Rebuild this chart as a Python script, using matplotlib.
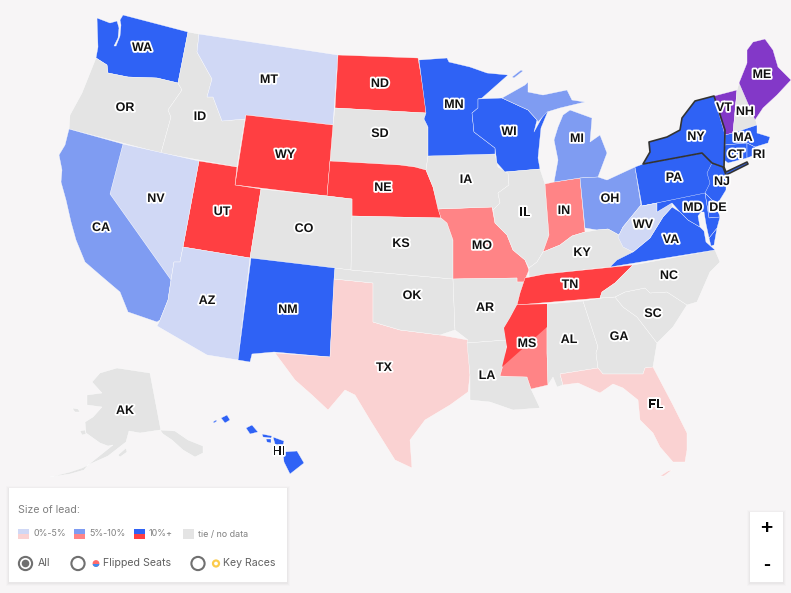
#!/usr/bin/env python
# -*- coding: utf-8 -*-

"""
Senate lead map: state shapes in screen pixels, one colour per state.
"""

import matplotlib
matplotlib.use("Agg")
import matplotlib.pyplot as plt
import matplotlib.patheffects as pe
from matplotlib.patches import Rectangle, Circle

# Lead categories and their colours.
BG = "#f7f5f6"
GREY = "#e4e4e4"
COLOURS = {
    "none": GREY,
    "d0": "#d0d8f5", "d5": "#7f9cf2", "d10": "#2f62f5",
    "r0": "#fad2d2", "r5": "#ff8486", "r10": "#ff3f42",
    "other": "#8338c8",
}

STATES = ["WA", "OR", "ID", "MT", "ND", "SD", "WY", "NE", "UT", "CO", "NV", "CA", "AZ", "NM", "TX", "OK", "KS",
          "MO", "AR", "LA", "IA", "MN", "WI", "IL", "IN", "MI", "OH", "KY", "TN", "MS", "AL", "GA", "SC", "NC",
          "FL", "VA", "WV", "PA", "NY", "VT", "NH", "ME", "MA", "CT", "RI", "NJ", "DE", "MD", "AK", "HI"]
LEADS = ["d10", "none", "none", "d0", "r10", "none", "r10", "r10", "r10", "none", "d0", "d5", "d0", "d10", "r0",
         "none", "none", "r5", "none", "none", "none", "d10", "d10", "none", "r5", "d5", "d5", "none", "r10", "r5",
         "none", "none", "none", "none", "r0", "d10", "d0", "d10", "d10", "other", "none", "other", "d10", "d10",
         "d10", "d10", "d10", "d10", "none", "d10"]
LABEL_X = [142, 125, 200, 269, 380, 380, 285, 383, 222, 304, 156, 101, 207, 288, 384, 412, 401, 482, 485, 487, 466,
           454, 509, 525, 564, 577, 610, 582, 570, 527, 569, 619, 653, 669, 656, 671, 643, 674, 696, 724, 745, 762,
           743, 736, 759, 722, 718, 693, 125, 279]
LABEL_Y = [48, 108, 117, 80, 84, 134, 155, 188, 212, 229, 199, 228, 301, 310, 368, 296, 244, 246, 308, 376, 180, 105,
           132, 213, 211, 139, 199, 253, 285, 344, 340, 337, 314, 276, 405, 240, 225, 178, 137, 108, 112, 75, 138,
           155, 155, 182, 208, 208, 411, 452]

# State outlines (pixels).
WA = [(97, 18), (110, 23), (117, 21), (119, 28), (118, 38), (114, 46), (116, 46), (120, 36), (121, 25), (120, 20),
      (123, 15), (188, 32), (178, 83), (157, 78), (128, 77), (108, 73), (107, 65), (96, 58), (98, 47)]
OR = [(96, 58), (107, 65), (108, 73), (128, 77), (157, 78), (178, 83), (182, 90), (168, 110), (171, 117), (161, 153),
      (69, 129), (70, 115), (82, 93)]
ID = [(188, 32), (199, 34), (197, 52), (212, 79), (207, 97), (213, 97), (222, 121), (245, 119), (237, 167), (161, 153),
      (171, 117), (168, 110), (182, 90), (178, 83)]
MT = [(199, 34), (338, 55), (333, 125), (246, 115), (245, 119), (222, 121), (213, 97), (207, 97), (212, 79), (197, 52)]
ND = [(338, 55), (418, 58), (421, 75), (424, 95), (426, 113), (335, 108)]
SD = [(335, 108), (426, 113), (424, 119), (428, 127), (428, 156), (426, 170), (415, 167), (400, 165), (330, 161),
      (333, 125)]
WY = [(246, 115), (333, 125), (330, 161), (327, 196), (235, 185)]
NE = [(330, 161), (400, 165), (415, 167), (426, 170), (433, 187), (441, 218), (352, 216), (352, 199), (327, 196)]
UT = [(199, 161), (237, 167), (235, 185), (261, 189), (250, 258), (183, 247)]
CO = [(261, 189), (327, 196), (352, 199), (352, 216), (351, 270), (250, 258)]
KS = [(352, 216), (441, 218), (447, 223), (453, 240), (453, 279), (351, 270)]
NV = [(123, 144), (199, 161), (183, 247), (180, 262), (174, 262), (171, 280), (110, 194)]
AZ = [(183, 247), (250, 258), (238, 360), (207, 355), (157, 326), (160, 320), (168, 300), (171, 280), (174, 262),
      (180, 262)]
CA = [(69, 129), (123, 144), (110, 194), (171, 280), (168, 300), (160, 320), (157, 322), (128, 312), (120, 292),
      (100, 275), (85, 262), (76, 240), (71, 222), (66, 200), (61, 182), (62, 170), (59, 155), (65, 145)]
NM = [(251, 258), (335, 268), (330, 357), (274, 352), (252, 354), (250, 362), (238, 360)]
TX = [(334, 279), (373, 283), (373, 322), (400, 330), (440, 335), (468, 340), (470, 375), (468, 392), (450, 405),
      (425, 420), (410, 440), (412, 468), (395, 460), (370, 420), (355, 395), (345, 390), (328, 410), (312, 395),
      (295, 380), (275, 353), (330, 357)]
OK = [(335, 268), (351, 270), (453, 279), (455, 330), (440, 335), (400, 330), (373, 322), (373, 283), (334, 279)]
MO = [(438, 209), (492, 207), (495, 223), (507, 235), (513, 250), (525, 260), (529, 270), (524, 282), (517, 282),
      (517, 278), (453, 279), (453, 240), (447, 223), (441, 218)]
AR = [(453, 279), (517, 278), (517, 282), (524, 282), (520, 293), (517, 305), (510, 318), (504, 328), (507, 340),
      (467, 343), (468, 340), (455, 330)]
LA = [(467, 343), (507, 340), (505, 358), (500, 376), (527, 377), (531, 389), (540, 408), (513, 410), (490, 402),
      (470, 400), (470, 375)]
IA = [(428, 156), (495, 154), (498, 167), (508, 173), (509, 185), (498, 193), (500, 203), (493, 210), (492, 207),
      (438, 209), (433, 187), (426, 170)]
MN = [(419, 60), (447, 58), (449, 62), (470, 67), (487, 73), (508, 75), (482, 98), (478, 99), (478, 108), (472, 113),
      (474, 132), (495, 148), (495, 154), (428, 156), (428, 127), (424, 119), (426, 113), (421, 75)]
WI = [(478, 99), (502, 98), (528, 110), (537, 120), (534, 132), (545, 112), (548, 111), (541, 128), (538, 158),
      (540, 169), (505, 172), (497, 163), (495, 148), (474, 132), (472, 113), (478, 108)]
IL = [(505, 172), (540, 169), (545, 184), (547, 210), (549, 235), (543, 252), (537, 262), (529, 268), (525, 260),
      (513, 250), (507, 235), (495, 223), (493, 210), (500, 203), (498, 193), (509, 185), (508, 173)]
IN = [(545, 184), (554, 182), (580, 178), (585, 232), (572, 236), (560, 245), (543, 252), (549, 235), (547, 210)]
MI_UPPER = [(502, 98), (525, 85), (528, 82), (528, 92), (543, 95), (567, 90), (572, 100), (585, 102), (560, 108),
            (547, 112), (538, 122), (537, 120), (528, 110)]
MI_LOWER = [(570, 110), (592, 118), (590, 142), (600, 135), (607, 153), (598, 177), (580, 178), (554, 182), (558, 160),
            (554, 140), (558, 127), (563, 115)]
MI_ISLE = [(512, 77), (521, 70), (523, 71), (514, 78)]
OH = [(580, 178), (598, 177), (607, 180), (635, 167), (641, 205), (623, 227), (619, 235), (608, 229), (597, 230),
      (585, 228)]
KY = [(529, 268), (537, 262), (543, 252), (560, 245), (572, 236), (585, 232), (597, 230), (608, 229), (619, 235),
      (624, 247), (633, 252), (620, 260), (610, 267), (545, 274), (529, 277)]
TN = [(525, 278), (545, 274), (633, 265), (615, 283), (602, 292), (600, 298), (517, 305), (520, 293)]
MS = [(517, 305), (547, 304), (547, 353), (548, 385), (531, 389), (527, 377), (500, 376), (505, 358), (507, 347),
      (504, 328), (510, 318)]
MS_TOP = [(517, 305), (547, 304), (547, 327), (502, 367), (507, 347), (504, 328), (510, 318)]
AL = [(547, 304), (583, 301), (598, 347), (596, 353), (598, 368), (560, 374), (563, 385), (557, 387), (553, 377),
      (548, 385), (547, 353)]
GA = [(583, 301), (602, 298), (615, 297), (623, 307), (637, 317), (657, 343), (653, 367), (645, 368), (643, 374),
      (603, 374), (598, 368), (596, 353), (598, 347)]
SC = [(615, 297), (625, 292), (645, 288), (650, 293), (667, 292), (687, 305), (673, 327), (657, 343), (637, 317),
      (623, 307)]
NC = [(633, 265), (715, 250), (720, 262), (710, 272), (697, 302), (687, 305), (667, 292), (650, 293), (645, 288),
      (625, 292), (615, 297), (600, 298), (602, 292), (615, 283)]
FL = [(560, 374), (598, 368), (603, 374), (643, 374), (645, 368), (653, 367), (673, 405), (687, 433), (687, 450),
      (685, 462), (673, 462), (660, 447), (653, 433), (640, 420), (638, 400), (623, 388), (613, 384), (600, 393),
      (578, 383), (563, 385)]
FL_KEYS = [(660, 476), (668, 471), (672, 470), (664, 476)]
VA = [(610, 267), (617, 260), (633, 252), (650, 238), (663, 217), (672, 207), (680, 212), (688, 220), (700, 227),
      (704, 231), (706, 242), (715, 250)]
VA_SHORE = [(709, 238), (717, 228), (714, 245), (711, 246)]
WV = [(618, 237), (623, 227), (641, 205), (657, 203), (657, 212), (672, 203), (672, 207), (663, 217), (650, 238),
      (633, 252), (623, 247)]
PA = [(635, 167), (643, 164), (702, 153), (712, 163), (723, 167), (715, 183), (710, 193), (642, 206)]
NY = [(643, 164), (650, 152), (649, 142), (667, 137), (680, 130), (682, 118), (695, 101), (714, 96), (725, 130),
      (724, 167), (726, 172), (747, 162), (748, 164), (726, 175), (723, 167), (712, 163), (702, 153)]
VT = [(714, 96), (737, 90), (733, 133), (725, 135)]
NH = [(737, 90), (739, 83), (755, 118), (757, 125), (733, 133)]
ME = [(739, 83), (747, 63), (747, 50), (753, 42), (765, 39), (773, 50), (778, 67), (791, 80), (777, 95), (763, 108),
      (755, 120)]
MA = [(725, 135), (733, 133), (757, 125), (757, 133), (770, 137), (768, 143), (755, 147), (747, 143), (725, 145)]
CT = [(725, 145), (747, 143), (747, 158), (728, 163), (724, 160)]
RI = [(747, 143), (755, 147), (755, 155), (747, 158)]
NJ = [(712, 163), (723, 167), (726, 175), (726, 190), (718, 203), (712, 200), (705, 193), (710, 183), (707, 173)]
DE = [(705, 193), (712, 200), (716, 205), (720, 217), (709, 218)]
MD = [(642, 206), (705, 193), (709, 218), (720, 217), (717, 228), (709, 238), (706, 224), (704, 212), (701, 212),
      (698, 216), (700, 227), (688, 220), (680, 212), (672, 203), (657, 212), (657, 203)]
AK = [(150, 373), (117, 368), (100, 373), (92, 382), (102, 393), (87, 395), (87, 405), (102, 407), (93, 417), (85, 422),
      (86, 433), (100, 443), (108, 446), (113, 445), (88, 465), (108, 456), (126, 442), (129, 431), (140, 433),
      (160, 430), (161, 431)]
AK_PANHANDLE = [(160, 430), (175, 431), (188, 440), (203, 446), (203, 453), (195, 457), (183, 450), (172, 440),
                (163, 434)]
AK_ISLE1 = [(72, 408), (78, 409), (80, 412), (75, 412)]
AK_ISLE2 = [(80, 431), (85, 430), (86, 434), (82, 435)]
AK_ISLE3 = [(118, 455), (126, 448), (127, 452), (120, 457)]
AK_CHAIN = [(88, 465), (82, 468), (70, 472), (50, 477), (70, 474), (84, 470)]
HI_BIG = [(283, 452), (297, 451), (304, 463), (290, 474), (284, 462)]
HI_MAUI = [(273, 437), (284, 441), (283, 446), (275, 444)]
HI_MOLOKAI = [(262, 434), (272, 436), (271, 438), (263, 437)]
HI_LANAI = [(266, 439), (271, 439), (271, 443), (267, 442)]
HI_OAHU = [(246, 428), (252, 425), (258, 432), (250, 434)]
HI_KAUAI = [(221, 418), (227, 415), (230, 420), (225, 423)]
HI_NIIHAU = [(213, 422), (216, 420), (217, 421), (214, 423)]

SHAPES = {
    "WA": [WA], "OR": [OR], "ID": [ID], "MT": [MT], "ND": [ND], "SD": [SD], "WY": [WY], "NE": [NE], "UT": [UT],
    "CO": [CO], "KS": [KS], "NV": [NV], "AZ": [AZ], "CA": [CA], "NM": [NM], "TX": [TX], "OK": [OK], "MO": [MO],
    "AR": [AR], "LA": [LA], "IA": [IA], "MN": [MN], "WI": [WI], "IL": [IL], "IN": [IN],
    "MI": [MI_UPPER, MI_LOWER, MI_ISLE], "OH": [OH], "KY": [KY], "TN": [TN], "MS": [MS], "AL": [AL], "GA": [GA],
    "SC": [SC], "NC": [NC], "FL": [FL, FL_KEYS], "VA": [VA, VA_SHORE], "WV": [WV], "PA": [PA], "NY": [NY], "VT": [VT],
    "NH": [NH], "ME": [ME], "MA": [MA], "CT": [CT], "RI": [RI], "NJ": [NJ], "DE": [DE], "MD": [MD],
    "AK": [AK, AK_PANHANDLE, AK_ISLE1, AK_ISLE2, AK_ISLE3, AK_CHAIN],
    "HI": [HI_BIG, HI_MAUI, HI_MOLOKAI, HI_LANAI, HI_OAHU, HI_KAUAI, HI_NIIHAU],
}

# Legend content.
LEGEND_TITLE = "Size of lead:"
LEGEND_TEXT = ["0%-5%", "5%-10%", "10%+", "tie / no data"]
LEGEND_TOP = ["d0", "d5", "d10", "none"]
LEGEND_BOTTOM = ["r0", "r5", "r10", "none"]
RADIO_TEXT = ["All", "Flipped Seats", "Key Races"]

plt.rcParams['font.family'] = ['Liberation Sans', 'DejaVu Sans']

fig = plt.figure(figsize=(7.91, 5.93), dpi=100, facecolor=BG)
ax = fig.add_axes([0, 0, 1, 1])
ax.set_xlim(0, 791)
ax.set_ylim(593, 0)
ax.axis("off")


def shadow_box(x, y, w, h):
    # Soft shadow, then the white card.
    for grow, alpha in [(3, 0.012), (2, 0.018), (1, 0.025)]:
        ax.add_patch(Rectangle((x - grow, y - grow + 1), w + 2 * grow, h + 2 * grow, fc="black", ec="none",
                               alpha=alpha, zorder=10))
    ax.add_patch(Rectangle((x, y), w, h, fc="white", ec="none", zorder=11))


# The states.
for state, lead in zip(STATES, LEADS):
    for outline in SHAPES[state]:
        ax.fill(*zip(*outline), fc=COLOURS[lead], ec="white", lw=0.25, zorder=2, joinstyle="round")

# Mississippi is split across the diagonal.
ax.fill(*zip(*MS_TOP), fc=COLOURS["r10"], ec="none", zorder=3)

# New York has the heavy outline.
ax.fill(*zip(*NY), fc="none", ec="#333333", lw=1.2, zorder=4, joinstyle="round")

for state, x, y in zip(STATES, LABEL_X, LABEL_Y):
    ax.text(x, y, state, ha="center", va="center", fontsize=9, fontweight="bold", color="#111111", zorder=6,
            path_effects=[pe.withStroke(linewidth=2.6, foreground="white")])

# Legend card.
shadow_box(9, 488, 278, 94)
ax.text(18, 510, LEGEND_TITLE, ha="left", va="center", fontsize=7.6, color="#808080", family="Inter", zorder=12)

for i, sw_x in enumerate([18, 74, 134, 183]):
    ax.add_patch(Rectangle((sw_x, 529), 11, 5, fc=COLOURS[LEGEND_TOP[i]], ec="none", zorder=12))
    ax.add_patch(Rectangle((sw_x, 534), 11, 5, fc=COLOURS[LEGEND_BOTTOM[i]], ec="none", zorder=12))
    ax.text(sw_x + 15, 534, LEGEND_TEXT[i], ha="left", va="center", fontsize=6.4, color="#808080", family="Inter",
            zorder=12)

for cx, text_x, label in zip([25.5, 78, 198], [38, 103, 223], RADIO_TEXT):
    ax.add_patch(Circle((cx, 563.5), 6.6, fc="white", ec="#707070", lw=1.5, zorder=12))
    ax.text(text_x, 562.5, label, ha="left", va="center", fontsize=7.6, color="#606060", family="Inter", zorder=12)
ax.add_patch(Circle((25.5, 563.5), 3.8, fc="#707070", ec="none", zorder=13))

# Flipped seats marker, then key races ring.
ax.add_patch(Circle((96, 563.5), 3.4, fc="#ff6a6a", ec="none", zorder=13))
blue_half = Rectangle((92, 563.5), 8, 4, fc="#3d8df0", ec="none", zorder=14)
ax.add_patch(blue_half)
blue_half.set_clip_path(Circle((96, 563.5), 3.4, transform=ax.transData))
ax.add_patch(Circle((216, 563.5), 3, fc="white", ec="#fbcb4b", lw=1.6, zorder=13))

# Zoom buttons.
shadow_box(750, 512, 33, 70)
ax.text(766.5, 528.5, "+", ha="center", va="center", fontsize=15, fontweight="bold", color="black", zorder=12)
ax.text(766.5, 565, "-", ha="center", va="center", fontsize=15, fontweight="bold", color="black", zorder=12)

fig.savefig("out.png", dpi=100, facecolor=BG)
